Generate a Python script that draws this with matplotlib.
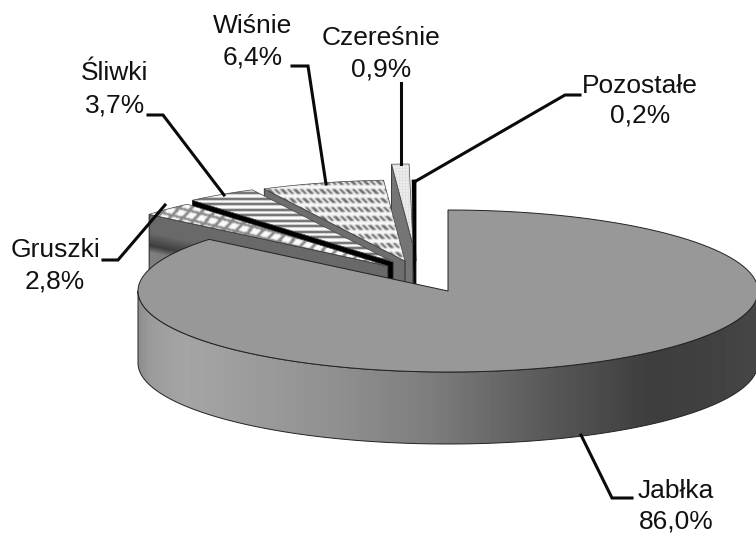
import numpy as np
import matplotlib
matplotlib.use('Agg')
import matplotlib.pyplot as plt
from matplotlib.patches import Polygon

plt.rcParams['font.family'] = ['Liberation Sans', 'DejaVu Sans']

names = ['Jabłka', 'Gruszki', 'Śliwki', 'Wiśnie', 'Czereśnie', 'Pozostałe']
values = [86.0, 2.8, 3.7, 6.4, 0.9, 0.2]
labels = ['86,0%', '2,8%', '3,7%', '6,4%', '0,9%', '0,2%']

# pie geometry in pixels
cx, cy = 448, 291
rx, ry = 310, 81
depth = 72
explode = [(0, 0), (-60, -25), (-55, -29), (-43, -30), (-35, -46), (-32, -30)]

fig = plt.figure(figsize=(7.56, 5.34), dpi=100)
ax = fig.add_axes([0, 0, 1, 1])
ax.axis('off')

yy, xx = np.mgrid[0:534, 0:756] + 0.5


def arc(a0, a1, n=200):
    t = np.radians(np.linspace(a0, a1, n))
    return np.column_stack([rx * np.cos(t), -ry * np.sin(t)])


def soften(img):
    # the original is a resampled scan, patterns are a bit blurry
    out = img.astype(float)
    for axis in (0, 1):
        out = (np.roll(out, 1, axis) + 2 * out + np.roll(out, -1, axis)) / 4
    return out


def fill_img(pts, img, z):
    poly = Polygon(pts, closed=True, fc='none', ec='none', transform=ax.transData)
    ax.add_patch(poly)
    im = ax.imshow(img, extent=(0, 756, 534, 0), cmap='gray', vmin=0, vmax=255,
                   aspect='auto', interpolation='bilinear', zorder=z)
    im.set_clip_path(poly)


# fill patterns
gruszki_tex = soften(np.where(((yy - 0.25 * xx) % 9 < 2.6) | ((xx + 0.9 * yy) % 13 < 4), 135, 250))
sliwki_tex = soften(np.where(yy % 5.5 < 2.0, 75, 250))
wisnie_tex = soften(np.where((yy % 9 < 5) & ((xx - yy) % 6.5 < 3.4), 105, 245))
czeresnie_tex = soften(np.where((xx % 3 < 1.3) & (yy % 3 < 1.3), 150, 240))
gruszki_wall = np.interp(yy - 0.22 * (xx - 148), [213, 232, 245, 252, 290], [105, 105, 62, 125, 135])
textures = [None, gruszki_tex, sliwki_tex, wisnie_tex, czeresnie_tex, None]
wall_fill = [None, gruszki_wall, '#000000', '#6e6e6e', '#757575', '#000000']
top_fill = ['#989898', None, None, None, None, '#000000']

# clockwise from 12 o'clock
ang = 90 - np.concatenate([[0], np.cumsum(values)]) * 3.6

# back slices first so the front ones cover their walls
for i in range(5, 0, -1):
    z = 10 + (5 - i) * 2
    a0, a1 = ang[i], ang[i + 1]
    if i == 5:
        a0, a1 = 90.7, 90
    if i in (1, 2, 3, 4):
        a0, a1 = a0 % 360, a1 % 360
    ox, oy = cx + explode[i][0], cy + explode[i][1]
    edge = arc(a0, a0, 2)[0] + (ox, oy)
    apex = np.array([ox, oy])
    wall = np.array([edge, apex, apex + (0, depth), edge + (0, depth)])
    if isinstance(wall_fill[i], str):
        ax.add_patch(Polygon(wall, fc=wall_fill[i], ec='#222222', lw=0.6, zorder=z))
    else:
        fill_img(wall, wall_fill[i], z)
        ax.add_patch(Polygon(wall, fc='none', ec='#222222', lw=0.7, zorder=z + 0.2))
    top = np.vstack([apex, arc(a0, a1, 40) + (ox, oy)])
    if textures[i] is None:
        ax.add_patch(Polygon(top, fc=top_fill[i], ec='#000000', lw=0.6, zorder=z + 1))
    else:
        fill_img(top, textures[i], z + 1)
        ax.add_patch(Polygon(top, fc='none', ec='#444444', lw=0.5, zorder=z + 1.2))

# big slice: rim with shading, then top face
a0, a1 = ang[0], ang[1]
front = arc(-180, 0) + (cx, cy)
rim = np.vstack([front, (front + (0, depth))[::-1]])
shade = np.interp(xx, [138, 150, 185, 330, 430, 560, 650, 700, 756],
                  [140, 155, 165, 145, 125, 85, 62, 64, 70])
fill_img(rim, shade, 30)
ax.add_patch(Polygon(rim, fc='none', ec='#222222', lw=0.7, zorder=30.5))
top = np.vstack([[cx, cy], arc(a0, a1, 400) + (cx, cy)])
ax.add_patch(Polygon(top, fc=top_fill[0], ec='#222222', lw=0.7, zorder=31))

# leader lines
leaders = [
    ([581, 612, 632], [435, 498, 498]),
    ([165, 118, 103], [205, 260, 260]),
    ([148, 163, 224], [115, 115, 195]),
    ([292, 308, 326], [66, 66, 184]),
    ([401, 401], [83, 164]),
    ([580, 565, 416], [95, 95, 181]),
]
for lx, ly in leaders:
    ax.plot(lx, ly, color='#0a0a0a', lw=2.2, solid_joinstyle='miter', zorder=40)

text_pos = [(676, 491, 521), (55, 250, 282), (115, 73, 105),
            (253, 26, 57), (381, 38, 70), (640, 86, 116)]
for name, lab, (tx, y1, y2) in zip(names, labels, text_pos):
    ax.text(tx, y1, name, ha='center', va='center', fontsize=19, color='#111111', zorder=50)
    ax.text(tx, y2, lab, ha='center', va='center', fontsize=19, color='#111111', zorder=50)

ax.set_xlim(0, 756)
ax.set_ylim(534, 0)
fig.savefig('out.png', dpi=100, facecolor='white')
